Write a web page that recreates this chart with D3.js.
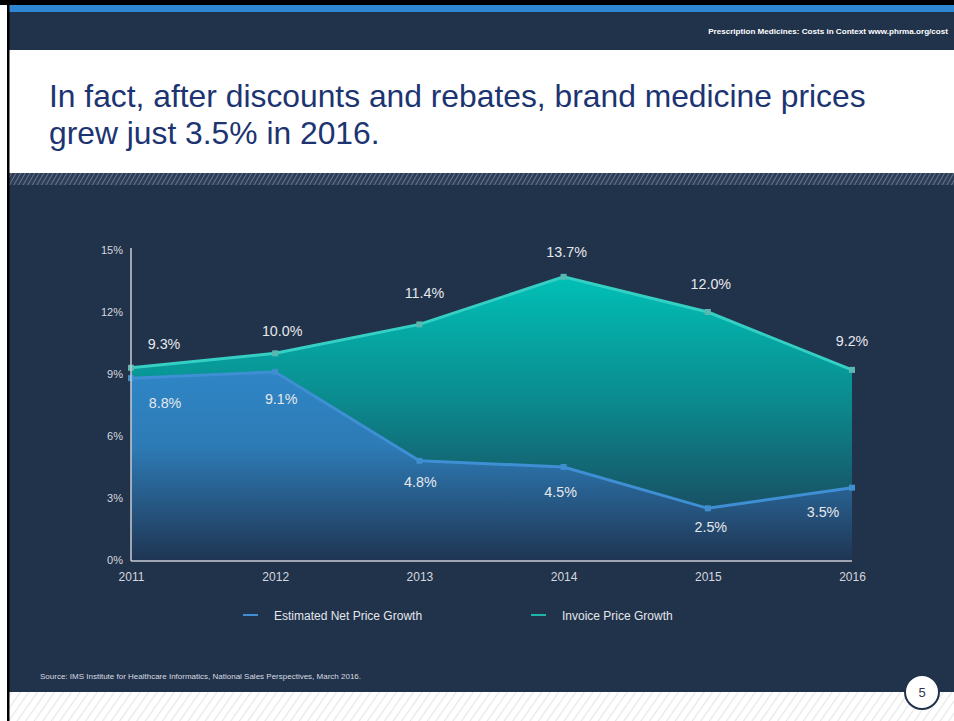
<!DOCTYPE html>
<html><head><meta charset="utf-8">
<script src="https://cdn.jsdelivr.net/npm/d3@7"></script>
<style>html,body{margin:0;padding:0;background:#fff;overflow:hidden}svg{display:block}text{font-family:"Liberation Sans",Arial,sans-serif}</style>
</head><body>
<svg id="c" width="954" height="721"></svg>
<script>
const years = [2011, 2012, 2013, 2014, 2015, 2016];
const invoiceGrowth = [9.3, 10.0, 11.4, 13.7, 12.0, 9.2];
const netGrowth = [8.8, 9.1, 4.8, 4.5, 2.5, 3.5];
const yTicks = [0, 3, 6, 9, 12, 15];
const seriesNames = ["Estimated Net Price Growth", "Invoice Price Growth"];

const svg = d3.select("#c");
const W = 954, H = 721;
const navy = "#21324b";

const defs = svg.append("defs");
const p1 = defs.append("pattern").attr("id","hatchDark").attr("patternUnits","userSpaceOnUse")
  .attr("width",4).attr("height",4).attr("patternTransform","rotate(30)");
p1.append("rect").attr("width",4).attr("height",4).attr("fill","#2c3d57");
p1.append("line").attr("x1",0).attr("y1",0).attr("x2",0).attr("y2",4).attr("stroke","#7d8799").attr("stroke-width",1.5);
const p2 = defs.append("pattern").attr("id","hatchLight").attr("patternUnits","userSpaceOnUse")
  .attr("width",7).attr("height",7).attr("patternTransform","rotate(35)");
p2.append("rect").attr("width",7).attr("height",7).attr("fill","#ffffff");
p2.append("line").attr("x1",0).attr("y1",0).attr("x2",0).attr("y2",7).attr("stroke","#e6e7ea").attr("stroke-width",2.5);

const gTeal = defs.append("linearGradient").attr("id","gTeal").attr("gradientUnits","userSpaceOnUse")
  .attr("x1",0).attr("x2",0).attr("y1",272).attr("y2",560);
gTeal.append("stop").attr("offset","0%").attr("stop-color","#00c2b7");
gTeal.append("stop").attr("offset","45%").attr("stop-color","#0b8a8e");
gTeal.append("stop").attr("offset","100%").attr("stop-color","#1e3550");
const gBlue = defs.append("linearGradient").attr("id","gBlue").attr("gradientUnits","userSpaceOnUse")
  .attr("x1",0).attr("x2",0).attr("y1",370).attr("y2",560);
gBlue.append("stop").attr("offset","0%").attr("stop-color","#2f86c6");
gBlue.append("stop").attr("offset","40%").attr("stop-color","#2d7bb6");
gBlue.append("stop").attr("offset","100%").attr("stop-color","#1f3553");

svg.append("rect").attr("width",W).attr("height",H).attr("fill","#fff");
svg.append("rect").attr("x",0).attr("y",0).attr("width",W).attr("height",5).attr("fill","#000");
svg.append("rect").attr("x",8).attr("y",5).attr("width",W-8).attr("height",7).attr("fill","#2f86d1");
svg.append("rect").attr("x",8).attr("y",12).attr("width",W-8).attr("height",38).attr("fill",navy);
svg.append("rect").attr("x",8).attr("y",173).attr("width",W-8).attr("height",12).attr("fill","url(#hatchDark)");
svg.append("rect").attr("x",8).attr("y",185).attr("width",W-8).attr("height",507).attr("fill",navy);
svg.append("rect").attr("x",8).attr("y",692).attr("width",W-8).attr("height",29).attr("fill","url(#hatchLight)");
svg.append("rect").attr("x",7).attr("y",0).attr("width",2.5).attr("height",H).attr("fill","#000");

svg.append("text").attr("x",948).attr("y",34).attr("text-anchor","end")
  .attr("fill","#fff").attr("font-size",8.1).attr("font-weight","bold")
  .text("Prescription Medicines: Costs in Context  www.phrma.org/cost");

const title = svg.append("text").attr("fill","#1c3471").attr("font-size",31.8);
title.append("tspan").attr("x",49).attr("y",107).text("In fact, after discounts and rebates, brand medicine prices");
title.append("tspan").attr("x",49).attr("y",144).text("grew just 3.5% in 2016.");

const x = d3.scaleLinear().domain([2011, 2016]).range([131, 852]);
const y = d3.scaleLinear().domain([0, 15]).range([560, 250]);

const inv = years.map((yr,i)=>({x:yr, v:invoiceGrowth[i]}));
const net = years.map((yr,i)=>({x:yr, v:netGrowth[i]}));

const area = d3.area().x(d=>x(d.x)).y0(y(0)).y1(d=>y(d.v));
const line = d3.line().x(d=>x(d.x)).y(d=>y(d.v));

svg.append("path").datum(inv).attr("d",area).attr("fill","url(#gTeal)");
svg.append("path").datum(net).attr("d",area).attr("fill","url(#gBlue)");

svg.append("path").datum(inv).attr("d",line).attr("fill","none").attr("stroke","#35cfc3").attr("stroke-width",3);
svg.append("path").datum(net).attr("d",line).attr("fill","none").attr("stroke","#3e8fd3").attr("stroke-width",3);

svg.selectAll(".mi").data(inv).enter().append("rect")
  .attr("x",d=>x(d.x)-3).attr("y",d=>y(d.v)-3).attr("width",6).attr("height",6).attr("fill","#5ab8b0");
svg.selectAll(".mn").data(net).enter().append("rect")
  .attr("x",d=>x(d.x)-3).attr("y",d=>y(d.v)-3).attr("width",6).attr("height",6).attr("fill","#3f8ed0");

const yAxis = d3.axisLeft(y).tickValues(yTicks).tickFormat(d=>d+"%").tickSize(0).tickPadding(8);
const ga = svg.append("g").attr("transform","translate(131,0)").call(yAxis);
ga.select(".domain").remove();
ga.selectAll("text").attr("fill","#d4d8de").attr("font-size",11).attr("font-family","'Liberation Sans',Arial,sans-serif");

const xAxis = d3.axisBottom(x).tickValues(years).tickFormat(d3.format("d")).tickSize(0).tickPadding(12);
const gx = svg.append("g").attr("transform","translate(0,560)").call(xAxis);
gx.select(".domain").remove();
gx.selectAll("text").attr("fill","#d4d8de").attr("font-size",12).attr("font-family","'Liberation Sans',Arial,sans-serif");

svg.append("line").attr("x1",131).attr("x2",131).attr("y1",248).attr("y2",561).attr("stroke","#c9ccd2").attr("stroke-width",1.5);
svg.append("line").attr("x1",131).attr("x2",852).attr("y1",561).attr("y2",561).attr("stroke","#c9ccd2").attr("stroke-width",1.5);

const invDx = [33, 7, 5, 3, 3, 0];
const invDy = [-19, -17, -26, -20, -23, -24];
const netDx = [34, 6, 1, -3, 3, -29];
const netDy = [30, 32, 26, 30, 24, 29];
svg.selectAll(".li").data(inv).enter().append("text")
  .attr("x",(d,i)=>x(d.x)+invDx[i]).attr("y",(d,i)=>y(d.v)+invDy[i])
  .attr("text-anchor","middle").attr("fill","#e6e8eb").attr("font-size",14.3)
  .text(d=>d.v.toFixed(1)+"%");
svg.selectAll(".ln").data(net).enter().append("text")
  .attr("x",(d,i)=>x(d.x)+netDx[i]).attr("y",(d,i)=>y(d.v)+netDy[i])
  .attr("text-anchor","middle").attr("fill","#e6e8eb").attr("font-size",14.3)
  .text(d=>d.v.toFixed(1)+"%");

const legColors = ["#3e8fd3", "#1fb5ad"];
const legX = [243, 531];
seriesNames.forEach((n,i)=>{
  svg.append("line").attr("x1",legX[i]).attr("x2",legX[i]+15).attr("y1",615).attr("y2",615)
    .attr("stroke",legColors[i]).attr("stroke-width",2);
  svg.append("text").attr("x",legX[i]+31).attr("y",619.5).attr("fill","#e3e6ea").attr("font-size",12).text(n);
});

svg.append("text").attr("x",40).attr("y",679).attr("fill","#d7dbe0").attr("font-size",8)
  .text("Source: IMS Institute for Healthcare Informatics, National Sales Perspectives, March 2016.");

svg.append("circle").attr("cx",922).attr("cy",692).attr("r",17).attr("fill","#fff").attr("stroke",navy).attr("stroke-width",2);
svg.append("text").attr("x",922).attr("y",697).attr("text-anchor","middle").attr("fill","#2a3a55").attr("font-size",13).text("5");
</script>
</body></html>
